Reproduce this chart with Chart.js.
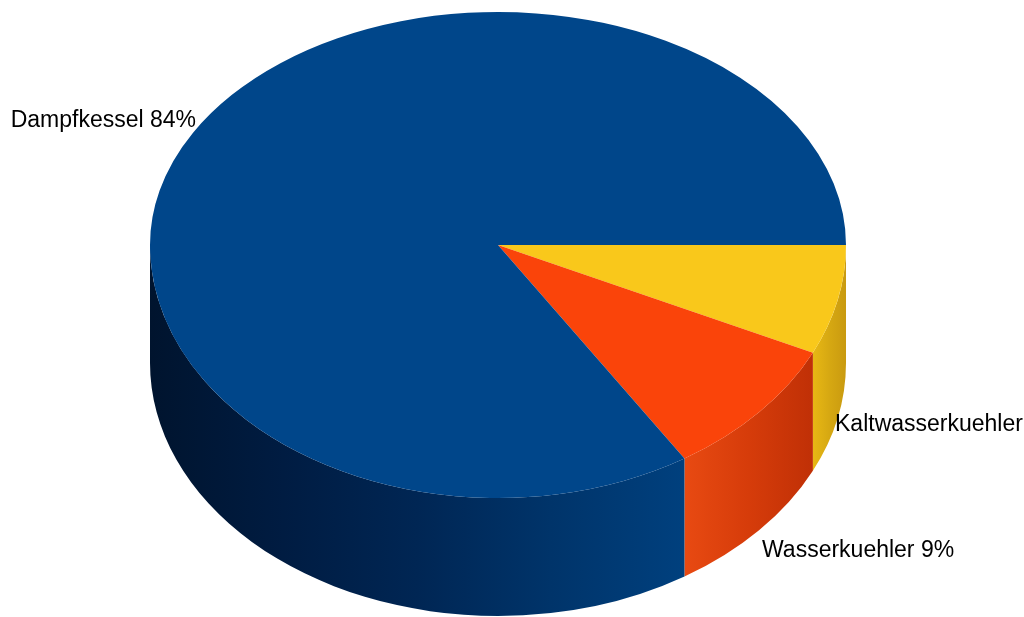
<!DOCTYPE html>
<html><head><meta charset="utf-8">
<script src="https://cdn.jsdelivr.net/npm/chart.js@4.4.1/dist/chart.umd.min.js"></script>
<style>html,body{margin:0;padding:0;background:#fff;overflow:hidden}#wrap{width:1024px;height:617px;position:relative}</style>
</head><body><div id="wrap"><canvas id="c"></canvas></div>
<script>
// ---- data ----
const categories = ['Kaltwasserkuehler', 'Wasserkuehler', 'Dampfkessel'];
const shares = [7, 9, 84];

// ---- styles / layout ----
const topColors = ['#f9c81b', '#fa440a', '#00468a'];
const sideColors = [
  ['#e8b814', '#d6a812', '#c99a10'],
  ['#e84a12', '#d63c0a', '#c03006'],
  ['#00142e', '#001c42', '#002654', '#00346a', '#00407e']
];
const labelAnchors = [
  {x: 835, y: 431, align: 'left'},
  {x: 762, y: 557, align: 'left'},
  {x: 196, y: 127, align: 'right'}
];
const LAYOUT = {backScale: 233 / 348, frontScale: 253 / 348, depth: 118, radius: 348};

const pie3d = {
  id: 'pie3d',
  beforeDatasetsDraw(chart) {
    const ctx = chart.ctx;
    const arcs = chart.getDatasetMeta(0).data;
    const W = chart.width, H = chart.height;
    const {backScale, frontScale, depth} = LAYOUT;
    const cx = arcs[0].x, cy = arcs[0].y;
    // side walls (front half only)
    arcs.forEach((arc, i) => {
      const p = arc.getProps(['startAngle', 'endAngle', 'outerRadius']);
      const s = Math.max(p.startAngle, 0), e = Math.min(p.endAngle, Math.PI);
      if (e <= s) return;
      const R = p.outerRadius;
      ctx.save();
      ctx.beginPath();
      ctx.ellipse(cx, cy, R, R * frontScale, 0, s, e, false);
      ctx.ellipse(cx, cy + depth, R, R * frontScale, 0, e, s, true);
      ctx.closePath();
      const x1 = cx + R * Math.cos(e), x2 = cx + R * Math.cos(s);
      const g = ctx.createLinearGradient(x1, 0, x2, 0);
      const cols = sideColors[i];
      cols.forEach((c, k) => g.addColorStop(k / (cols.length - 1), c));
      ctx.fillStyle = g;
      ctx.fill();
      ctx.restore();
    });
    // top face: back half and front half with slight perspective
    [[0, cy, backScale], [cy, H - cy, frontScale]].forEach(([y0, h, k]) => {
      ctx.save();
      ctx.beginPath(); ctx.rect(0, y0, W, h); ctx.clip();
      ctx.translate(cx, cy); ctx.scale(1, k); ctx.translate(-cx, -cy);
      arcs.forEach(a => a.draw(ctx));
      ctx.restore();
    });
    return false;
  },
  afterDraw(chart) {
    const ctx = chart.ctx;
    ctx.save();
    ctx.font = '23px "Liberation Sans", Arial, sans-serif';
    ctx.fillStyle = '#000';
    ctx.textBaseline = 'alphabetic';
    categories.forEach((c, i) => {
      const a = labelAnchors[i];
      ctx.textAlign = a.align;
      ctx.fillText(c + ' ' + shares[i] + '%', a.x, a.y);
    });
    ctx.restore();
  }
};

new Chart(document.getElementById('c'), {
  type: 'pie',
  data: {
    labels: categories,
    datasets: [{
      data: shares,
      backgroundColor: topColors,
      borderWidth: 0,
      radius: LAYOUT.radius
    }]
  },
  options: {
    responsive: true,
    maintainAspectRatio: false,
    animation: false,
    events: [],
    rotation: 90,
    layout: {padding: {left: 0, top: 0, right: 28, bottom: 127}},
    plugins: {legend: {display: false}, tooltip: {enabled: false}}
  },
  plugins: [pie3d]
});
</script>
</body></html>
